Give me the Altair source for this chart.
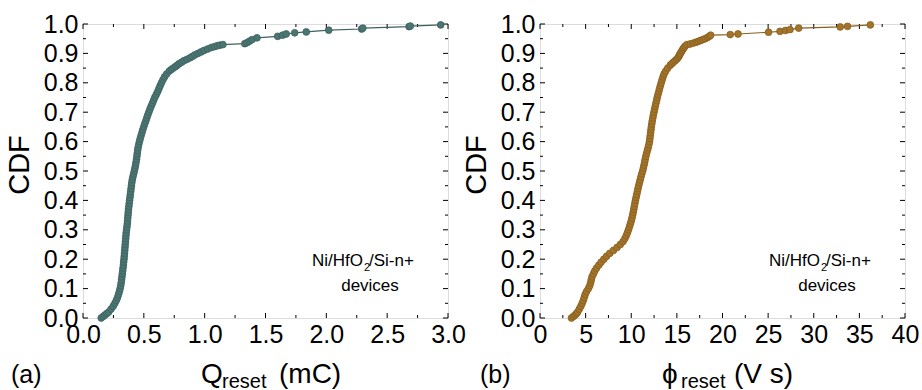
import altair as alt
import pandas as pd

# ---------------- data ----------------
cdf_q = [0.000, 0.005, 0.010, 0.015, 0.020, 0.030, 0.040, 0.050, 0.060, 0.070,
         0.080, 0.090, 0.100, 0.110, 0.120, 0.130, 0.140, 0.150, 0.160, 0.170,
         0.180, 0.190, 0.200, 0.210, 0.220, 0.230, 0.240, 0.250, 0.260, 0.270,
         0.280, 0.290, 0.300, 0.310, 0.320, 0.330, 0.340, 0.350, 0.360, 0.370,
         0.380, 0.390, 0.400, 0.410, 0.420, 0.430, 0.440, 0.450, 0.460, 0.470,
         0.480, 0.490, 0.500, 0.510, 0.520, 0.530, 0.540, 0.550, 0.560, 0.570,
         0.580, 0.590, 0.600, 0.610, 0.620, 0.630, 0.640, 0.650, 0.660, 0.670,
         0.680, 0.690, 0.700, 0.710, 0.720, 0.730, 0.740, 0.750, 0.760, 0.770,
         0.780, 0.790, 0.800, 0.810, 0.820, 0.830, 0.840, 0.845, 0.850, 0.855,
         0.860, 0.865, 0.870, 0.875, 0.880, 0.885, 0.890, 0.895, 0.900, 0.905,
         0.910, 0.915, 0.920, 0.923, 0.926, 0.928, 0.930,
         0.933, 0.937, 0.942, 0.947, 0.953, 0.958, 0.962, 0.966, 0.970, 0.973,
         0.979, 0.983, 0.986, 0.991, 0.993, 0.997]
q_reset = [0.150, 0.165, 0.180, 0.195, 0.210, 0.230, 0.248, 0.262, 0.274, 0.284,
           0.292, 0.299, 0.305, 0.310, 0.314, 0.317, 0.320, 0.323, 0.326, 0.329,
           0.332, 0.334, 0.337, 0.339, 0.341, 0.343, 0.345, 0.347, 0.349, 0.351,
           0.353, 0.355, 0.358, 0.361, 0.364, 0.366, 0.368, 0.370, 0.372, 0.374,
           0.377, 0.380, 0.383, 0.386, 0.389, 0.392, 0.395, 0.398, 0.401, 0.405,
           0.410, 0.416, 0.422, 0.427, 0.432, 0.436, 0.440, 0.443, 0.446, 0.449,
           0.453, 0.458, 0.464, 0.470, 0.477, 0.484, 0.491, 0.499, 0.507, 0.516,
           0.524, 0.532, 0.541, 0.550, 0.560, 0.570, 0.580, 0.590, 0.602, 0.614,
           0.624, 0.634, 0.645, 0.657, 0.670, 0.688, 0.710, 0.725, 0.742, 0.760,
           0.775, 0.790, 0.810, 0.830, 0.855, 0.880, 0.900, 0.920, 0.945, 0.970,
           0.995, 1.025, 1.055, 1.080, 1.105, 1.125, 1.150,
           1.330, 1.350, 1.370, 1.390, 1.430, 1.600, 1.640, 1.670, 1.740, 1.835,
           2.020, 2.290, 2.300, 2.680, 2.690, 2.940]

cdf_phi = [0.000, 0.005, 0.010, 0.015, 0.020, 0.030, 0.040, 0.050, 0.060, 0.070,
           0.080, 0.090, 0.100, 0.110, 0.120, 0.130, 0.140, 0.150, 0.160, 0.170,
           0.180, 0.190, 0.200, 0.210, 0.220, 0.230, 0.240, 0.250, 0.260, 0.270,
           0.280, 0.290, 0.300, 0.310, 0.320, 0.330, 0.340, 0.350, 0.360, 0.370,
           0.380, 0.390, 0.400, 0.410, 0.420, 0.430, 0.440, 0.450, 0.460, 0.470,
           0.480, 0.490, 0.500, 0.510, 0.520, 0.530, 0.540, 0.550, 0.560, 0.570,
           0.580, 0.590, 0.600, 0.610, 0.620, 0.630, 0.640, 0.650, 0.660, 0.670,
           0.680, 0.690, 0.700, 0.710, 0.720, 0.730, 0.740, 0.750, 0.760, 0.770,
           0.780, 0.790, 0.800, 0.810, 0.820, 0.830, 0.840, 0.850, 0.860, 0.865,
           0.870, 0.875, 0.880, 0.885, 0.890, 0.895, 0.900, 0.905, 0.910, 0.915,
           0.920, 0.925, 0.930,
           0.932, 0.935, 0.938, 0.941, 0.944, 0.947, 0.950, 0.954, 0.958, 0.962,
           0.964, 0.966, 0.972, 0.975, 0.978, 0.981, 0.986, 0.990, 0.992, 0.997]
phi_reset = [3.45, 3.65, 3.85, 4.00, 4.12, 4.30, 4.48, 4.62, 4.75, 4.85,
             4.95, 5.10, 5.30, 5.45, 5.55, 5.62, 5.70, 5.85, 6.00, 6.20,
             6.45, 6.70, 7.00, 7.30, 7.65, 8.05, 8.45, 8.80, 9.10, 9.30,
             9.45, 9.58, 9.70, 9.80, 9.90, 10.00, 10.08, 10.15, 10.22, 10.28,
             10.34, 10.40, 10.46, 10.53, 10.60, 10.67, 10.74, 10.81, 10.90, 10.98,
             11.06, 11.15, 11.25, 11.33, 11.40, 11.47, 11.53, 11.60, 11.68, 11.77,
             11.86, 11.93, 12.00, 12.04, 12.08, 12.12, 12.16, 12.20, 12.25, 12.30,
             12.36, 12.42, 12.49, 12.56, 12.63, 12.70, 12.78, 12.85, 12.93, 13.02,
             13.10, 13.19, 13.28, 13.38, 13.48, 13.60, 13.78, 14.00, 14.28, 14.45,
             14.62, 14.80, 14.98, 15.12, 15.22, 15.30, 15.38, 15.48, 15.58, 15.68,
             15.78, 15.92, 16.10,
             16.45, 16.80, 17.10, 17.36, 17.60, 17.85, 18.10, 18.35, 18.55, 18.70,
             20.85, 21.70, 25.05, 26.30, 26.90, 27.40, 28.35, 32.90, 33.70, 36.20]

q_major = [0.0, 0.5, 1.0, 1.5, 2.0, 2.5, 3.0]
q_minor = [0.25, 0.75, 1.25, 1.75, 2.25, 2.75]
phi_major = [0, 5, 10, 15, 20, 25, 30, 35, 40]
phi_minor = [2.5, 7.5, 12.5, 17.5, 22.5, 27.5, 32.5, 37.5]
cdf_major = [0.0, 0.1, 0.2, 0.3, 0.4, 0.5, 0.6, 0.7, 0.8, 0.9, 1.0]
cdf_minor = [0.05, 0.15, 0.25, 0.35, 0.45, 0.55, 0.65, 0.75, 0.85, 0.95]

# ---------------- styling ----------------
W, H = 365, 294
FONT = "Liberation Sans"
MAJ, MIN = 5, 3


def text_mark(txt, x, y, size, align="left", baseline="alphabetic", angle=0):
    return alt.Chart(pd.DataFrame({"t": [txt]})).mark_text(
        font=FONT, fontSize=size, align=align, baseline=baseline,
        angle=angle, color="black"
    ).encode(x=alt.value(x), y=alt.value(y), text="t:N")


def panel(xs, ys, xdomain, xmajor, xminor, xfmt, color, stroke,
          sym, sym_x, sub_x, unit, unit_x, letter, letter_x):
    xscale = alt.Scale(domain=xdomain, nice=False, zero=False)
    yscale = alt.Scale(domain=[0, 1], nice=False, zero=False)
    xax = alt.Axis(values=xmajor, format=xfmt, title=None, ticks=False,
                   domain=False, grid=False, labelFont=FONT, labelFontSize=25,
                   labelColor="black", labelPadding=4, labelFlush=False,
                   labelOverlap=False)
    yax = alt.Axis(values=cdf_major, format=".1f", title=None, ticks=False,
                   domain=False, grid=False, labelFont=FONT, labelFontSize=25,
                   labelColor="black", labelPadding=5, labelFlush=False,
                   labelOverlap=False)
    xe = alt.X("x:Q", scale=xscale, axis=xax)
    ye = alt.Y("y:Q", scale=yscale, axis=yax)

    df = pd.DataFrame({"x": xs, "y": ys})
    line = alt.Chart(df).mark_line(color=stroke, strokeWidth=1.2).encode(x=xe, y=ye)
    pts = alt.Chart(df).mark_point(filled=True, shape="circle", size=46,
                                   fill=color, stroke=stroke, strokeWidth=0.8,
                                   opacity=1).encode(x=xe, y=ye)

    layers = []
    for vals, ln in ((xmajor, MAJ), (xminor, MIN)):
        d = pd.DataFrame({"x": vals})
        layers.append(alt.Chart(d).mark_rule(color="black", strokeWidth=1).encode(
            x=xe, y=alt.value(H), y2=alt.value(H - ln)))
        layers.append(alt.Chart(d).mark_rule(color="black", strokeWidth=1).encode(
            x=xe, y=alt.value(0), y2=alt.value(ln)))
    for vals, ln in ((cdf_major, MAJ), (cdf_minor, MIN)):
        d = pd.DataFrame({"y": vals})
        layers.append(alt.Chart(d).mark_rule(color="black", strokeWidth=1).encode(
            y=ye, x=alt.value(0), x2=alt.value(ln)))
        layers.append(alt.Chart(d).mark_rule(color="black", strokeWidth=1).encode(
            y=ye, x=alt.value(W), x2=alt.value(W - ln)))

    texts = [
        text_mark("CDF", -63, 141, 29, align="center", baseline="middle", angle=270),
        text_mark(sym, sym_x, 359, 28),
        text_mark("reset", sub_x, 364, 20),
        text_mark(unit, unit_x, 359, 28),
        text_mark(letter, letter_x, 359, 25),
        text_mark("Ni/HfO", 280, 242, 17, align="right"),
        text_mark("2", 281, 247, 11),
        text_mark("/Si-n+", 286, 242, 17),
        text_mark("devices", 287, 267, 17, align="center"),
    ]
    return alt.layer(*layers, line, pts, *texts).properties(width=W, height=H)


left = panel(q_reset, cdf_q, [0, 3], q_major, q_minor, ".1f",
             "#4b7572", "#3d625f", "Q", 118, 139, "(mC)", 196, "(a)", -72)
right = panel(phi_reset, cdf_phi, [0, 40], phi_major, phi_minor, "d",
              "#a27328", "#86601f", "\u03d5", 122, 141, "(V s)", 194, "(b)", -60)

chart = alt.hconcat(left, right, spacing=92, bounds="flush").properties(
    padding={"left": 5, "top": 11, "right": 0, "bottom": 0}
).configure_view(stroke="black", strokeWidth=1).configure(background="white")

chart.save("out.html", embed_options={"renderer": "svg", "actions": False})
